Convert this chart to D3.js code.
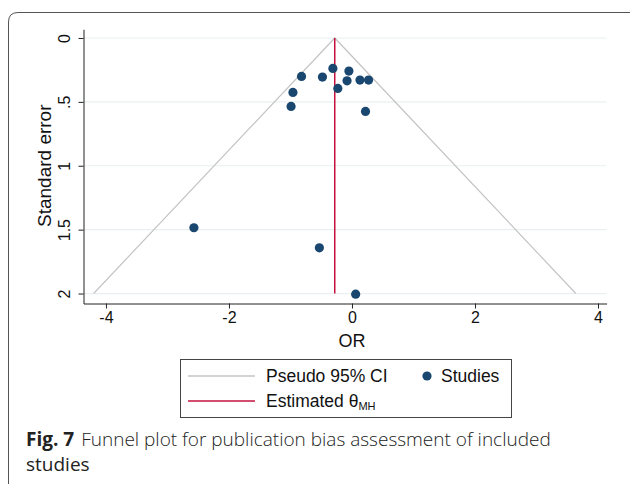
<!DOCTYPE html>
<html lang="en">
<head>
    <meta charset="UTF-8">
    <title>Funnel plot</title>
    <script src="https://d3js.org/d3.v7.min.js"></script>
    <style>
        body { margin: 0; background: #fff; }
        svg { display: block; }
        .tick text { font-family: "Liberation Sans", Arial, sans-serif; font-size: 16px; fill: #111; }
    </style>
</head>
<body>
    <svg width="630" height="484"></svg>

    <script>
        // Study estimates (log OR) and their standard errors
        const orValues = [-0.31, -0.05, -0.82, -0.48, -0.08, 0.13, 0.27, -0.23, -0.96, -0.99, 0.22, -2.57, -0.53, 0.06];
        const seValues = [0.238, 0.259, 0.301, 0.306, 0.335, 0.329, 0.329, 0.395, 0.426, 0.536, 0.575, 1.485, 1.642, 2.005];
        const thetaMH = -0.28;
        const xTicks = [-4, -2, 0, 2, 4];
        const yTicks = [0, 0.5, 1, 1.5, 2];
        const yTickLabels = ["0", ".5", "1", "1.5", "2"];

        const svg = d3.select("svg");

        // caption frame
        svg.append("path")
            .attr("d", "M8.5,490 L8.5,22 Q8.5,12.5 18,12.5 L640,12.5")
            .attr("fill", "none")
            .attr("stroke", "#555")
            .attr("stroke-width", 1);

        const x = d3.scaleLinear().domain([-4.365, 4.14]).range([83.5, 606.6]);
        const y = d3.scaleLinear().domain([-0.068, 2.078]).range([29.3, 303.5]);

        // grid lines
        svg.append("g")
            .selectAll("line")
            .data(yTicks)
            .enter().append("line")
            .attr("x1", x.range()[0])
            .attr("x2", x.range()[1])
            .attr("y1", d => y(d))
            .attr("y2", d => y(d))
            .attr("stroke", "#e8f0f1")
            .attr("stroke-width", 1.2);

        // funnel (pseudo 95% CI)
        const seMax = 2;
        const funnel = [
            [thetaMH - 1.96 * seMax, seMax],
            [thetaMH, 0],
            [thetaMH + 1.96 * seMax, seMax]
        ];
        svg.append("path")
            .datum(funnel)
            .attr("d", d3.line().x(d => x(d[0])).y(d => y(d[1])))
            .attr("fill", "none")
            .attr("stroke", "#c4c4c4")
            .attr("stroke-width", 1.2);

        // estimated theta
        svg.append("line")
            .attr("x1", x(thetaMH)).attr("x2", x(thetaMH))
            .attr("y1", y(0)).attr("y2", y(seMax))
            .attr("stroke", "#c4123e")
            .attr("stroke-width", 1.5);

        // studies
        svg.append("g")
            .selectAll("circle")
            .data(orValues)
            .enter().append("circle")
            .attr("cx", d => x(d))
            .attr("cy", (d, i) => y(seValues[i]))
            .attr("r", 4.6)
            .attr("fill", "#1a476f");

        // axes
        const xAxis = svg.append("g")
            .attr("transform", `translate(0,${y.range()[1]})`)
            .call(d3.axisBottom(x).tickValues(xTicks).tickSize(5).tickPadding(3).tickSizeOuter(0)
                .tickFormat(d => d < 0 ? "-" + Math.abs(d) : d));
        xAxis.select(".domain").attr("stroke", "#222");
        xAxis.selectAll(".tick line").attr("stroke", "#222");

        const yAxis = svg.append("g")
            .attr("transform", `translate(${x.range()[0]},0)`)
            .call(d3.axisLeft(y).tickValues(yTicks).tickSize(5).tickSizeOuter(0)
                .tickFormat((d, i) => yTickLabels[i]));
        yAxis.select(".domain").attr("stroke", "#222");
        yAxis.selectAll(".tick line").attr("stroke", "#222");
        yAxis.selectAll(".tick text")
            .attr("x", 0).attr("dy", 0)
            .attr("text-anchor", "middle")
            .attr("transform", "translate(-14,0) rotate(-90)");

        // axis titles
        svg.append("text")
            .attr("x", x(0)).attr("y", 347)
            .attr("text-anchor", "middle")
            .attr("font-family", "Liberation Sans, Arial, sans-serif")
            .attr("font-size", 18)
            .attr("fill", "#111")
            .text("OR");

        svg.append("text")
            .attr("transform", `translate(51,${y(1)}) rotate(-90)`)
            .attr("text-anchor", "middle")
            .attr("font-family", "Liberation Sans, Arial, sans-serif")
            .attr("font-size", 19)
            .attr("fill", "#111")
            .text("Standard error");

        // legend
        const legend = svg.append("g").attr("font-family", "Liberation Sans, Arial, sans-serif")
            .attr("font-size", 17.5).attr("fill", "#111");
        legend.append("rect")
            .attr("x", 180.5).attr("y", 359.5).attr("width", 331).attr("height", 58)
            .attr("fill", "#fff").attr("stroke", "#444").attr("stroke-width", 1);
        legend.append("line").attr("x1", 188).attr("x2", 255).attr("y1", 376).attr("y2", 376)
            .attr("stroke", "#c4c4c4").attr("stroke-width", 1.3);
        legend.append("text").attr("x", 266).attr("y", 382).text("Pseudo 95% CI");
        legend.append("circle").attr("cx", 427).attr("cy", 376).attr("r", 4.6).attr("fill", "#1a476f");
        legend.append("text").attr("x", 441).attr("y", 382).text("Studies");
        legend.append("line").attr("x1", 188).attr("x2", 255).attr("y1", 401).attr("y2", 401)
            .attr("stroke", "#c4123e").attr("stroke-width", 1.5);
        const est = legend.append("text").attr("x", 266).attr("y", 407);
        est.append("tspan").text("Estimated θ");
        est.append("tspan").attr("font-size", 11).attr("dy", 3).text("MH");

        // caption
        const cap = svg.append("text")
            .attr("x", 26).attr("y", 446)
            .attr("font-family", "Open Sans, sans-serif")
            .attr("font-size", 19)
            .attr("fill", "#222");
        cap.append("tspan").attr("font-weight", "bold").text("Fig. 7");
        cap.append("tspan").attr("dx", 7).attr("font-weight", 300)
            .text("Funnel plot for publication bias assessment of included");
        svg.append("text")
            .attr("x", 26).attr("y", 471)
            .attr("font-family", "Open Sans, sans-serif")
            .attr("font-size", 19)
            .attr("fill", "#222")
            .text("studies");
    </script>
</body>
</html>
